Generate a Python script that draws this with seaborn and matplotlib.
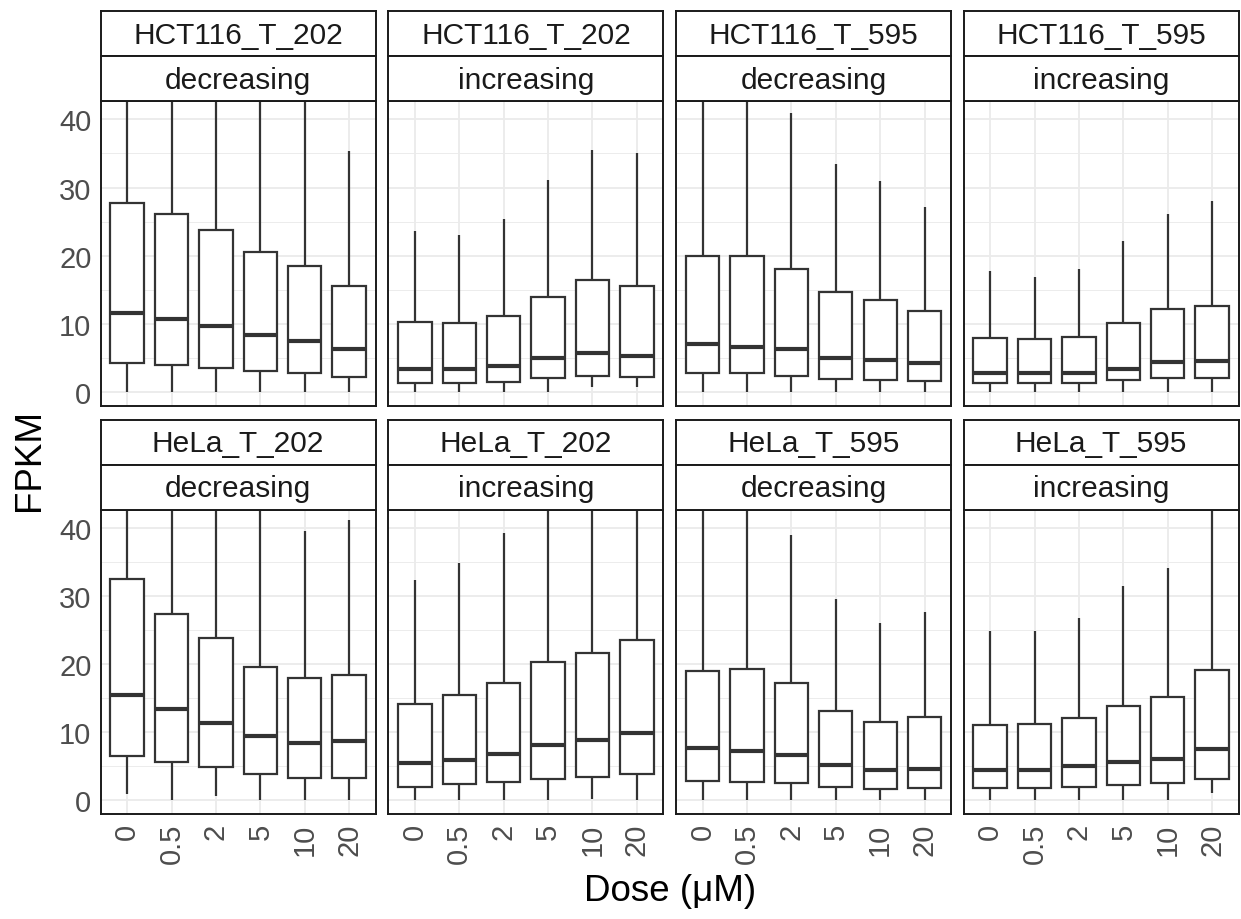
import numpy as np
import pandas as pd
import matplotlib
matplotlib.use('Agg')
import matplotlib.pyplot as plt
from matplotlib.ticker import FixedLocator
import seaborn as sns

sns.set_theme(style='white')
plt.rcParams['font.family'] = ['Liberation Sans', 'DejaVu Sans']

# ---------------- data ----------------
doses = ['0', '0.5', '2', '5', '10', '20']
cell_lines = ['HCT116_T_202', 'HCT116_T_202', 'HCT116_T_595', 'HCT116_T_595',
              'HeLa_T_202', 'HeLa_T_202', 'HeLa_T_595', 'HeLa_T_595']
trends = ['decreasing', 'increasing', 'decreasing', 'increasing',
          'decreasing', 'increasing', 'decreasing', 'increasing']

whisker_low = [
    [0, 0, 0, 0, 0, 0],
    [0, 0, 0, 0, 0.7, 0.7],
    [0, 0, 0, 0, 0, 0],
    [0, 0, 0, 0, 0, 0],
    [1.0, 0, 0.6, 0, 0, 0],
    [0, 0, 0, 0, 0.2, 0],
    [0, 0, 0, 0, 0, 0],
    [0, 0, 0, 0, 0, 1.1],
]
q1 = [
    [4.3, 3.9, 3.5, 3.1, 2.7, 2.15],
    [1.3, 1.3, 1.5, 2.0, 2.4, 2.2],
    [2.8, 2.7, 2.35, 1.9, 1.8, 1.6],
    [1.3, 1.3, 1.3, 1.7, 2.1, 2.1],
    [6.5, 5.6, 4.85, 3.8, 3.35, 3.3],
    [2.0, 2.35, 2.7, 3.1, 3.5, 3.9],
    [2.85, 2.75, 2.5, 1.95, 1.6, 1.8],
    [1.8, 1.8, 1.95, 2.25, 2.55, 3.1],
]
median = [
    [11.6, 10.7, 9.7, 8.4, 7.5, 6.25],
    [3.4, 3.3, 3.8, 4.9, 5.7, 5.3],
    [7.0, 6.65, 6.3, 5.0, 4.65, 4.25],
    [2.7, 2.7, 2.8, 3.3, 4.35, 4.5],
    [15.4, 13.4, 11.35, 9.45, 8.4, 8.7],
    [5.5, 6.0, 6.85, 8.1, 8.8, 9.95],
    [7.7, 7.25, 6.6, 5.25, 4.4, 4.65],
    [4.5, 4.5, 5.05, 5.6, 6.1, 7.5],
]
q3 = [
    [27.75, 26.1, 23.8, 20.5, 18.5, 15.5],
    [10.3, 10.1, 11.2, 13.9, 16.4, 15.5],
    [19.9, 19.9, 18.1, 14.6, 13.55, 11.9],
    [7.9, 7.7, 8.1, 10.1, 12.2, 12.6],
    [32.45, 27.4, 23.9, 19.6, 17.9, 18.4],
    [14.15, 15.4, 17.3, 20.3, 21.7, 23.6],
    [19.05, 19.3, 17.2, 13.1, 11.55, 12.2],
    [11.0, 11.25, 12.1, 13.9, 15.2, 19.2],
]
whisker_high = [
    [50, 50, 50, 50, 50, 35.3],
    [23.6, 23.0, 25.4, 31.1, 35.5, 35.1],
    [50, 50, 41.0, 33.4, 31.0, 27.2],
    [17.7, 16.9, 18.1, 22.2, 26.1, 28.0],
    [50, 50, 50, 50, 39.5, 41.1],
    [32.3, 34.9, 39.3, 50, 50, 50],
    [50, 50, 38.9, 29.5, 26.1, 27.7],
    [24.8, 24.9, 26.8, 31.4, 34.1, 50],
]

# long table: five values per box reproduce exactly the five box statistics
rows = []
for p in range(len(cell_lines)):
    for d, dose in enumerate(doses):
        for v in (whisker_low[p][d], q1[p][d], median[p][d], q3[p][d], whisker_high[p][d]):
            rows.append((p, dose, v))
df = pd.DataFrame(rows, columns=['panel', 'Dose', 'FPKM'])

# ---------------- layout ----------------
W, H = 1241, 920
fig = plt.figure(figsize=(W / 100, H / 100), dpi=100)

col_left = [100.5, 388.3, 676.0, 963.5]
panel_w = 275.2
row_top = [102.0, 510.5]
panel_h = 304.5
strip_h = 45.0

EDGE = '#333333'
GRID = '#EBEBEB'


def fx(x):
    return x / W


def fy(y):
    return 1 - y / H


def add_strip(left, top, text):
    sax = fig.add_axes([fx(left), fy(top + strip_h), panel_w / W, strip_h / H])
    sax.set_facecolor('white')
    sax.set_xticks([])
    sax.set_yticks([])
    for s in sax.spines.values():
        s.set_color('#1A1A1A')
        s.set_linewidth(1.4)
    sax.text(0.5, 0.47, text, ha='center', va='center', fontsize=21.5,
             color='#1A1A1A', transform=sax.transAxes)


for p in range(len(cell_lines)):
    r, c = divmod(p, 4)
    left = col_left[c]
    top = row_top[r]
    ax = fig.add_axes([fx(left), fy(top + panel_h), panel_w / W, panel_h / H])
    sub = df[df['panel'] == p]
    sns.boxplot(data=sub, x='Dose', y='FPKM', order=doses, ax=ax,
                color='white', linecolor=EDGE, linewidth=1.6, width=0.75,
                whis=(0, 100), showcaps=False, showfliers=False,
                medianprops=dict(linewidth=3.0, color=EDGE))
    ax.set_xlim(-0.6, 5.6)
    ax.set_ylim(-2.0, 42.7)
    ax.set_xlabel('')
    ax.set_ylabel('')
    ax.set_facecolor('white')
    ax.set_axisbelow(True)
    ax.yaxis.set_major_locator(FixedLocator([0, 10, 20, 30, 40]))
    ax.yaxis.set_minor_locator(FixedLocator([5, 15, 25, 35]))
    ax.grid(which='major', color=GRID, linewidth=1.3)
    ax.grid(which='minor', axis='y', color=GRID, linewidth=0.65)
    ax.tick_params(which='minor', length=0)
    ax.tick_params(axis='both', which='major', length=4.5, width=1.2,
                   color=EDGE, labelsize=21, labelcolor='#4D4D4D', pad=2)
    for s in ax.spines.values():
        s.set_color('#1A1A1A')
        s.set_linewidth(1.4)
    if r == 0:
        ax.tick_params(axis='x', length=0, labelbottom=False)
    else:
        ax.set_xticks(range(len(doses)))
        ax.set_xticklabels(doses, rotation=90, ha='center', va='top')
    if c != 0:
        ax.tick_params(axis='y', length=0, labelleft=False)

    add_strip(left, top - 2 * strip_h, cell_lines[p])
    add_strip(left, top - strip_h, trends[p])

fig.text(fx((col_left[0] + col_left[3] + panel_w) / 2), fy(892), 'Dose (μM)',
         ha='center', va='center', fontsize=26.5, color='black')
fig.text(fx(29), fy(460), 'FPKM', ha='center', va='center', rotation=90,
         fontsize=26.5, color='black')

fig.savefig('out.png', dpi=100, facecolor='white')
